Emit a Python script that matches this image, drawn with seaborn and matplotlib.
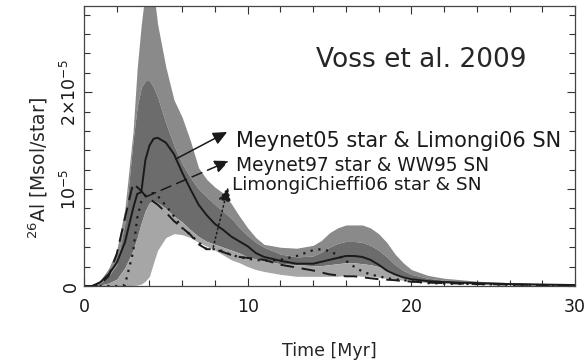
import numpy as np
import pandas as pd
import matplotlib
matplotlib.use("Agg")
import matplotlib.pyplot as plt
import seaborn as sns
from matplotlib.ticker import MultipleLocator, FixedLocator

####################################################################################
## DATA  (26Al per star, in units of 1e-5 Msol/star)
####################################################################################
time = [0, 0.5, 1.0, 1.5, 2.0, 2.5, 3.0, 3.25, 3.5, 3.75,
        4.0, 4.25, 4.5, 5.0, 5.5, 6.0, 6.5, 7.0, 7.5, 8.0,
        8.5, 9.0, 9.5, 10.0, 10.5, 11.0, 12.0, 13.0, 14.0, 14.5,
        15.0, 15.5, 16.0, 16.5, 17.0, 17.5, 18.0, 18.5, 19.0, 19.5,
        20.0, 21.0, 22.0, 24.0, 26.0, 28.0, 30.0]

# outer envelope (top), inner band top, inner band bottom, outer envelope (bottom)
band_upper = [0, 0.0, 0.06, 0.18, 0.37, 0.8, 1.6, 2.25, 2.7, 3.05,
              3.3, 3.05, 2.7, 2.26, 1.92, 1.74, 1.5, 1.22, 1.1, 1.02,
              0.96, 0.85, 0.72, 0.6, 0.5, 0.43, 0.4, 0.39, 0.42, 0.47,
              0.55, 0.6, 0.63, 0.63, 0.63, 0.6, 0.54, 0.45, 0.33, 0.24,
              0.17, 0.11, 0.08, 0.05, 0.035, 0.025, 0.02]
inner_upper = [0, 0.0, 0.03, 0.1, 0.22, 0.65, 1.5, 1.85, 2.05, 2.12,
               2.12, 2.05, 1.95, 1.68, 1.45, 1.26, 1.12, 1.0, 0.92, 0.84,
               0.77, 0.7, 0.6, 0.52, 0.45, 0.4, 0.33, 0.3, 0.31, 0.35,
               0.4, 0.44, 0.46, 0.46, 0.45, 0.42, 0.37, 0.3, 0.22, 0.16,
               0.12, 0.08, 0.06, 0.04, 0.03, 0.02, 0.015]
inner_lower = [0, 0.0, 0.01, 0.03, 0.07, 0.19, 0.37, 0.5, 0.65, 0.78,
               0.86, 0.88, 0.86, 0.8, 0.72, 0.66, 0.58, 0.51, 0.46, 0.43,
               0.4, 0.37, 0.34, 0.3, 0.28, 0.26, 0.23, 0.22, 0.21, 0.21,
               0.22, 0.23, 0.24, 0.24, 0.23, 0.22, 0.2, 0.17, 0.13, 0.1,
               0.08, 0.05, 0.04, 0.025, 0.018, 0.012, 0.01]
band_lower = [0, 0.0, 0.0, 0.0, 0.0, 0.0, 0.005, 0.01, 0.02, 0.05,
              0.1, 0.24, 0.37, 0.5, 0.54, 0.53, 0.5, 0.45, 0.41, 0.37,
              0.32, 0.27, 0.24, 0.2, 0.17, 0.15, 0.12, 0.1, 0.1, 0.1,
              0.1, 0.1, 0.11, 0.11, 0.1, 0.1, 0.09, 0.08, 0.07, 0.06,
              0.05, 0.035, 0.03, 0.02, 0.012, 0.008, 0.005]

# model curves
meynet05_limongi06 = [0, 0.0, 0.04, 0.12, 0.24, 0.45, 0.8, 0.95, 0.97, 1.3,
                      1.45, 1.52, 1.53, 1.48, 1.36, 1.17, 1.0, 0.84, 0.73, 0.64,
                      0.58, 0.51, 0.46, 0.41, 0.34, 0.3, 0.26, 0.23, 0.23, 0.25,
                      0.27, 0.29, 0.31, 0.31, 0.3, 0.27, 0.22, 0.16, 0.12, 0.09,
                      0.07, 0.05, 0.04, 0.03, 0.02, 0.015, 0.01]
meynet97_ww95 = [0, 0.0, 0.02, 0.1, 0.33, 0.7, 1.06, 1.02, 0.98, 0.93,
                 0.9, 0.87, 0.84, 0.76, 0.67, 0.6, 0.53, 0.43, 0.38, 0.38,
                 0.35, 0.32, 0.3, 0.29, 0.28, 0.27, 0.22, 0.19, 0.16, 0.14,
                 0.12, 0.11, 0.1, 0.1, 0.09, 0.08, 0.07, 0.065, 0.06, 0.05,
                 0.045, 0.035, 0.03, 0.02, 0.015, 0.01, 0.008]
limongichieffi06 = [0, 0.0, 0.0, 0.0, 0.0, 0.01, 0.35, 0.7, 0.87, 0.93,
                    0.95, 0.96, 0.93, 0.83, 0.72, 0.6, 0.53, 0.45, 0.38, 0.38,
                    0.36, 0.32, 0.3, 0.28, 0.27, 0.26, 0.27, 0.31, 0.37, 0.38,
                    0.36, 0.32, 0.26, 0.2, 0.15, 0.12, 0.1, 0.08, 0.07, 0.06,
                    0.05, 0.03, 0.025, 0.02, 0.012, 0.01, 0.008]

labels = ["Meynet05 star & Limongi06 SN", "Meynet97 star & WW95 SN",
          "LimongiChieffi06 star & SN"]

df = pd.DataFrame({"time": time, "s": meynet05_limongi06,
                   "d": meynet97_ww95, "p": limongichieffi06})

####################################################################################
## PLOT
####################################################################################
sns.set_theme(style="ticks")
plt.rcParams["font.family"] = ["DejaVu Sans"]

fig = plt.figure(figsize=(5.85, 3.61), dpi=100)
ax = fig.add_axes([84 / 585, 1 - 286 / 361, 491 / 585, 280 / 361])

# shaded ranges
ax.fill_between(time, inner_upper, band_upper, color="#8a8a8a", lw=0)
ax.fill_between(time, inner_lower, inner_upper, color="#6c6c6c", lw=0)
ax.fill_between(time, band_lower, inner_lower, color="#a6a6a6", lw=0)

sns.lineplot(data=df, x="time", y="s", ax=ax, color="k", lw=1.4)
sns.lineplot(data=df, x="time", y="d", ax=ax, color="k", lw=1.4,
             linestyle=(0, (7, 4)))
sns.lineplot(data=df, x="time", y="p", ax=ax, color="k", lw=1.6,
             linestyle=(0, (1, 2.5)))

# arrows + labels
arrow_starts = [(5.6, 1.31), (3.77, 0.92), (7.9, 0.40)]
arrow_ends = [(8.75, 1.59), (8.85, 1.29), (8.8, 1.02)]
arrow_ls = ["-", (0, (7, 4)), (0, (1, 2))]
for (x0, y0), (x1, y1), ls in zip(arrow_starts, arrow_ends, arrow_ls):
    ax.annotate("", xy=(x1, y1), xytext=(x0, y0),
                arrowprops=dict(arrowstyle="-|>,head_length=0.7,head_width=0.32",
                                color="k", lw=1.1, linestyle=ls,
                                shrinkA=0, shrinkB=0))

label_x = [9.3, 9.3, 9.05]
label_y = [1.43, 1.19, 0.99]
label_size = [15, 13.4, 13.3]
for txt, lx, ly, fs in zip(labels, label_x, label_y, label_size):
    ax.text(lx, ly, txt, fontsize=fs, ha="left", va="baseline", color="k")

ax.text(14.2, 2.26, "Voss et al. 2009", fontsize=19, ha="left", va="baseline")

# axes
ax.set_xlim(0, 30)
ax.set_ylim(0, 2.89)
ax.xaxis.set_major_locator(FixedLocator([0, 10, 20, 30]))
ax.xaxis.set_minor_locator(MultipleLocator(2))
ax.yaxis.set_major_locator(FixedLocator([0, 1, 2]))
ax.yaxis.set_minor_locator(MultipleLocator(0.2))
ax.set_xticklabels(["0", "10", "20", "30"])
ax.set_yticklabels(["0", r"$10^{-5}$", r"$2{\times}10^{-5}$"],
                   rotation=90, va="center")

ax.tick_params(which="both", direction="in", top=True, right=True,
               colors="#333333", labelcolor="k", labelsize=12.5, width=0.8)
ax.tick_params(which="major", length=6)
ax.tick_params(axis="x", which="major", pad=9)
ax.tick_params(axis="y", which="major", pad=3)
ax.tick_params(which="minor", length=4)
for sp in ax.spines.values():
    sp.set_color("#444444")
    sp.set_linewidth(0.9)

ax.set_xlabel("Time [Myr]", fontsize=12.5, labelpad=16)
ax.set_ylabel(r"$^{26}$Al [Msol/star]", fontsize=13.5)
ax.yaxis.set_label_coords(-0.07, 0.42)
ax.xaxis.set_label_coords(0.5, -0.2)

fig.savefig("out.png", dpi=100)
